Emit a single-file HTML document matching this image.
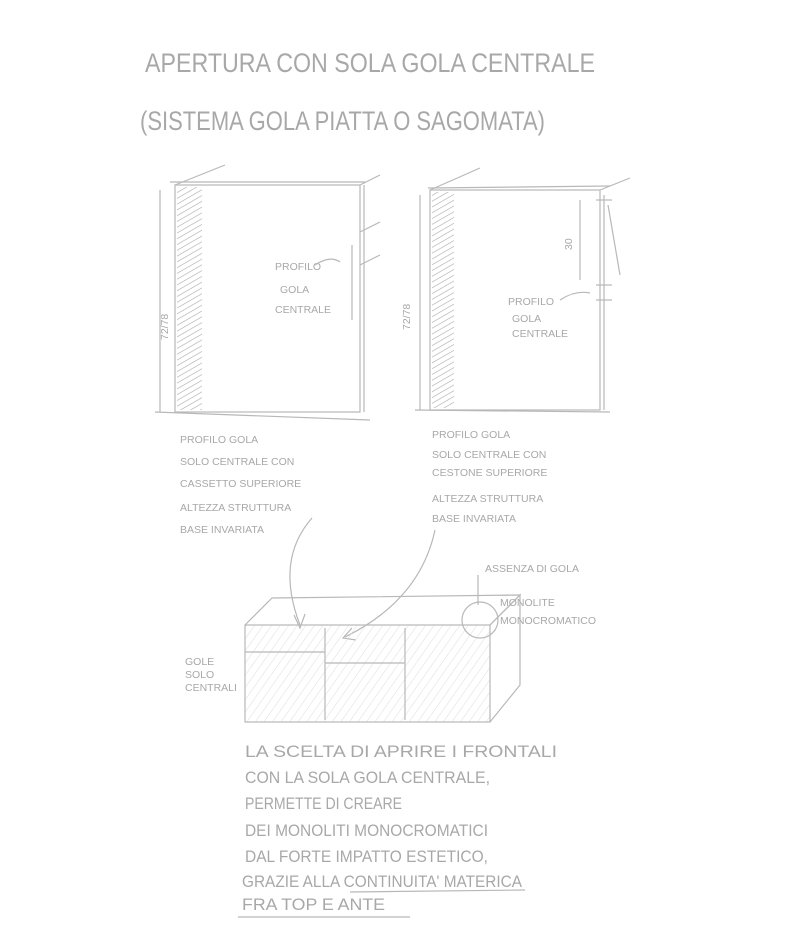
<!DOCTYPE html>
<html><head><meta charset="utf-8"><style>
html,body{margin:0;padding:0;background:#fff;}
svg{display:block}
text{font-family:"Liberation Sans",sans-serif;fill:#a8a8a8;}
.t{font-size:27px}
.s{font-size:10.5px}
.m{font-size:17px}
</style></head><body>
<svg width="800" height="950" viewBox="0 0 800 950" xmlns="http://www.w3.org/2000/svg">
<defs>
<pattern id="h" width="5" height="5" patternUnits="userSpaceOnUse" patternTransform="rotate(60)">
<line x1="0" y1="0" x2="0" y2="5" stroke="#aaa" stroke-width="1.2"/></pattern>
<pattern id="h2" width="7" height="7" patternUnits="userSpaceOnUse" patternTransform="rotate(35)">
<line x1="0" y1="0" x2="0" y2="7" stroke="#ddd" stroke-width="1"/></pattern>
</defs>
<g stroke="#b8b8b8" fill="none" stroke-width="1.2">
<text class="t" x="145" y="72" stroke="none" textLength="450" lengthAdjust="spacingAndGlyphs">APERTURA CON SOLA GOLA CENTRALE</text>
<text class="t" x="140" y="130" stroke="none" textLength="405" lengthAdjust="spacingAndGlyphs">(SISTEMA GOLA PIATTA O SAGOMATA)</text>

<!-- left cabinet -->
<rect x="175" y="185" width="185" height="227"/>
<rect x="177" y="187" width="25" height="223" fill="url(#h)" stroke="none"/>
<line x1="175" y1="185" x2="225" y2="165"/><line x1="170" y1="182" x2="365" y2="182"/>
<line x1="360" y1="185" x2="380" y2="175"/><line x1="360" y1="232" x2="380" y2="222"/>
<line x1="360" y1="265" x2="380" y2="255"/><line x1="352" y1="245" x2="352" y2="320"/>
<line x1="160" y1="190" x2="160" y2="412"/><line x1="155" y1="412" x2="370" y2="420"/>
<line x1="364" y1="185" x2="364" y2="412"/>
<text class="s" x="0" y="0" stroke="none" transform="translate(168 340) rotate(-90)">72/78</text>
<text class="s" x="275" y="270" stroke="none">PROFILO</text>
<text class="s" x="280" y="293" stroke="none">GOLA</text>
<text class="s" x="275" y="313" stroke="none">CENTRALE</text>
<path d="M315 265 Q330 255 340 262"/>

<!-- right cabinet -->
<rect x="430" y="190" width="170" height="220"/>
<rect x="432" y="192" width="22" height="216" fill="url(#h)" stroke="none"/>
<line x1="430" y1="190" x2="480" y2="168"/><line x1="428" y1="188" x2="610" y2="186"/>
<line x1="600" y1="190" x2="630" y2="178"/><line x1="604" y1="195" x2="604" y2="410"/>
<line x1="596" y1="200" x2="612" y2="200"/><line x1="596" y1="285" x2="612" y2="285"/>
<line x1="596" y1="300" x2="612" y2="300"/><line x1="608" y1="205" x2="620" y2="275"/>
<line x1="580" y1="200" x2="580" y2="280"/>
<line x1="420" y1="195" x2="420" y2="410"/><line x1="415" y1="410" x2="610" y2="412"/>
<text class="s" x="0" y="0" stroke="none" transform="translate(410 330) rotate(-90)">72/78</text>
<text class="s" x="0" y="0" stroke="none" transform="translate(572 250) rotate(-90)">30</text>
<text class="s" x="508" y="305" stroke="none">PROFILO</text>
<text class="s" x="512" y="322" stroke="none">GOLA</text>
<text class="s" x="512" y="337" stroke="none">CENTRALE</text>
<path d="M560 300 Q575 290 590 293"/>

<!-- texts -->
<text class="s" x="180" y="443" stroke="none">PROFILO GOLA</text>
<text class="s" x="180" y="465" stroke="none">SOLO CENTRALE CON</text>
<text class="s" x="180" y="487" stroke="none">CASSETTO SUPERIORE</text>
<text class="s" x="180" y="511" stroke="none">ALTEZZA STRUTTURA</text>
<text class="s" x="180" y="533" stroke="none">BASE INVARIATA</text>
<text class="s" x="432" y="438" stroke="none">PROFILO GOLA</text>
<text class="s" x="432" y="458" stroke="none">SOLO CENTRALE CON</text>
<text class="s" x="432" y="476" stroke="none">CESTONE SUPERIORE</text>
<text class="s" x="432" y="502" stroke="none">ALTEZZA STRUTTURA</text>
<text class="s" x="432" y="522" stroke="none">BASE INVARIATA</text>

<!-- arrows -->
<path d="M312 518 Q275 560 300 625"/><path d="M294 615 L300 628 L305 614"/>
<path d="M435 530 Q420 600 345 637"/><path d="M352 628 L343 638 L356 640"/>

<!-- bottom box -->
<rect x="245" y="625" width="245" height="97" fill="url(#h2)"/>
<path d="M245 625 L272 598 L520 595 L490 625"/>
<path d="M490 625 L520 595 L520 685 L490 722"/>
<line x1="325" y1="628" x2="325" y2="720"/><line x1="405" y1="628" x2="405" y2="720"/>
<line x1="325" y1="663" x2="405" y2="663"/><line x1="245" y1="652" x2="325" y2="652"/>
<circle cx="480" cy="620" r="18"/>
<path d="M478 575 L478 605"/>
<text class="s" x="485" y="572" stroke="none">ASSENZA DI GOLA</text>
<text class="s" x="500" y="606" stroke="none">MONOLITE</text>
<text class="s" x="500" y="624" stroke="none">MONOCROMATICO</text>
<text class="s" x="185" y="665" stroke="none">GOLE</text>
<text class="s" x="185" y="678" stroke="none">SOLO</text>
<text class="s" x="185" y="691" stroke="none">CENTRALI</text>

<text class="m" x="245" y="757" stroke="none" textLength="312" lengthAdjust="spacingAndGlyphs">LA SCELTA DI APRIRE I FRONTALI</text>
<text class="m" x="245" y="783" stroke="none" textLength="245" lengthAdjust="spacingAndGlyphs">CON LA SOLA GOLA CENTRALE,</text>
<text class="m" x="245" y="809" stroke="none" textLength="157" lengthAdjust="spacingAndGlyphs">PERMETTE DI CREARE</text>
<text class="m" x="245" y="836" stroke="none" textLength="243" lengthAdjust="spacingAndGlyphs">DEI MONOLITI MONOCROMATICI</text>
<text class="m" x="245" y="862" stroke="none" textLength="243" lengthAdjust="spacingAndGlyphs">DAL FORTE IMPATTO ESTETICO,</text>
<text class="m" x="242" y="887" stroke="none" textLength="280" lengthAdjust="spacingAndGlyphs">GRAZIE ALLA CONTINUITA' MATERICA</text>
<line x1="350" y1="892" x2="525" y2="890"/>
<text class="m" x="242" y="910" stroke="none" textLength="143" lengthAdjust="spacingAndGlyphs">FRA TOP E ANTE</text>
<line x1="238" y1="917" x2="410" y2="917"/>
</g>
</svg>
</body></html>
